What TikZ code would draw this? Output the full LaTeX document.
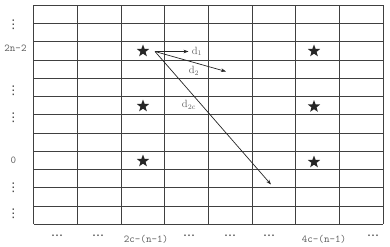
\documentclass[tikz,border=0pt]{standalone}
\usepackage{fontspec}
\newfontfamily\dejavu{DejaVu Sans}
\usetikzlibrary{shapes.geometric,arrows.meta}
\begin{document}
\begin{tikzpicture}[x=1pt,y=-1pt,
  gridline/.style={draw=black!75,line width=0.7pt},
  starmark/.style={star,star points=5,star point ratio=2.4,minimum size=13pt,inner sep=0pt,fill=black!85,draw=none},
  lbl/.style={text=black!62,font=\ttfamily\fontsize{10.5}{12}\selectfont,inner sep=0pt},
  dlbl/.style={text=black!62,font=\fontsize{10.5}{12}\selectfont,inner sep=0pt},
  dots/.style={text=black!80,font=\dejavu\fontsize{12}{13}\selectfont,inner sep=0pt},
  dist/.style={draw=black!85,line width=0.7pt,-{Stealth[length=5pt,width=3.6pt]}}]
\useasboundingbox (0,0) rectangle (390,246);
% grid
\foreach \k in {0,...,8} {
  \draw[gridline] ({33.5+\k*43.69},5.3) -- ({33.5+\k*43.69},224.3);
}
\foreach \j in {0,...,12} {
  \draw[gridline] (33.5,{5.3+\j*18.25}) -- (383,{5.3+\j*18.25});
}
% stars
\node[starmark] (s1) at (143,51) {};
\node[starmark] (s2) at (143,106) {};
\node[starmark] (s3) at (143,161) {};
\node[starmark] (s4) at (314,51) {};
\node[starmark] (s5) at (314,106.5) {};
\node[starmark] (s6) at (314,162) {};
% arrows
\coordinate (o) at (155,51.5);
\coordinate (e1) at (188.5,51.5);
\coordinate (e2) at (226,71.5);
\coordinate (e3) at (271,184.5);
\draw[dist] (o) -- (e1);
\draw[dist] (o) -- (e2);
\draw[dist] (o) -- (e3);
\node[dlbl] (d1) at (197,51.5) {d$_1$};
\node[dlbl] (d2) at (194,71) {d$_2$};
\node[dlbl] (d3) at (189,105) {d$_{2\mathrm{c}}$};
% left labels
\node[dots] (l1) at (13.3,24.5) {⋮};
\node[lbl] (l2) at (15.5,48) {2n-2};
\node[dots] (l3) at (13.3,90.5) {⋮};
\node[dots] (l4) at (13.3,118) {⋮};
\node[lbl] (l5) at (13.3,160.3) {0};
\node[dots] (l6) at (13.3,188) {⋮};
\node[dots] (l7) at (13.3,214) {⋮};
% bottom labels
\node[dots] (b1) at (57,237) {⋯};
\node[dots] (b2) at (98,237) {⋯};
\node[lbl] (b3) at (146,239.5) {2c-(n-1)};
\node[dots] (b4) at (189,237) {⋯};
\node[dots] (b5) at (230,237) {⋯};
\node[dots] (b6) at (269,237) {⋯};
\node[lbl] (b7) at (324,239.5) {4c-(n-1)};
\node[dots] (b8) at (373,237) {⋯};
\end{tikzpicture}
\end{document}
